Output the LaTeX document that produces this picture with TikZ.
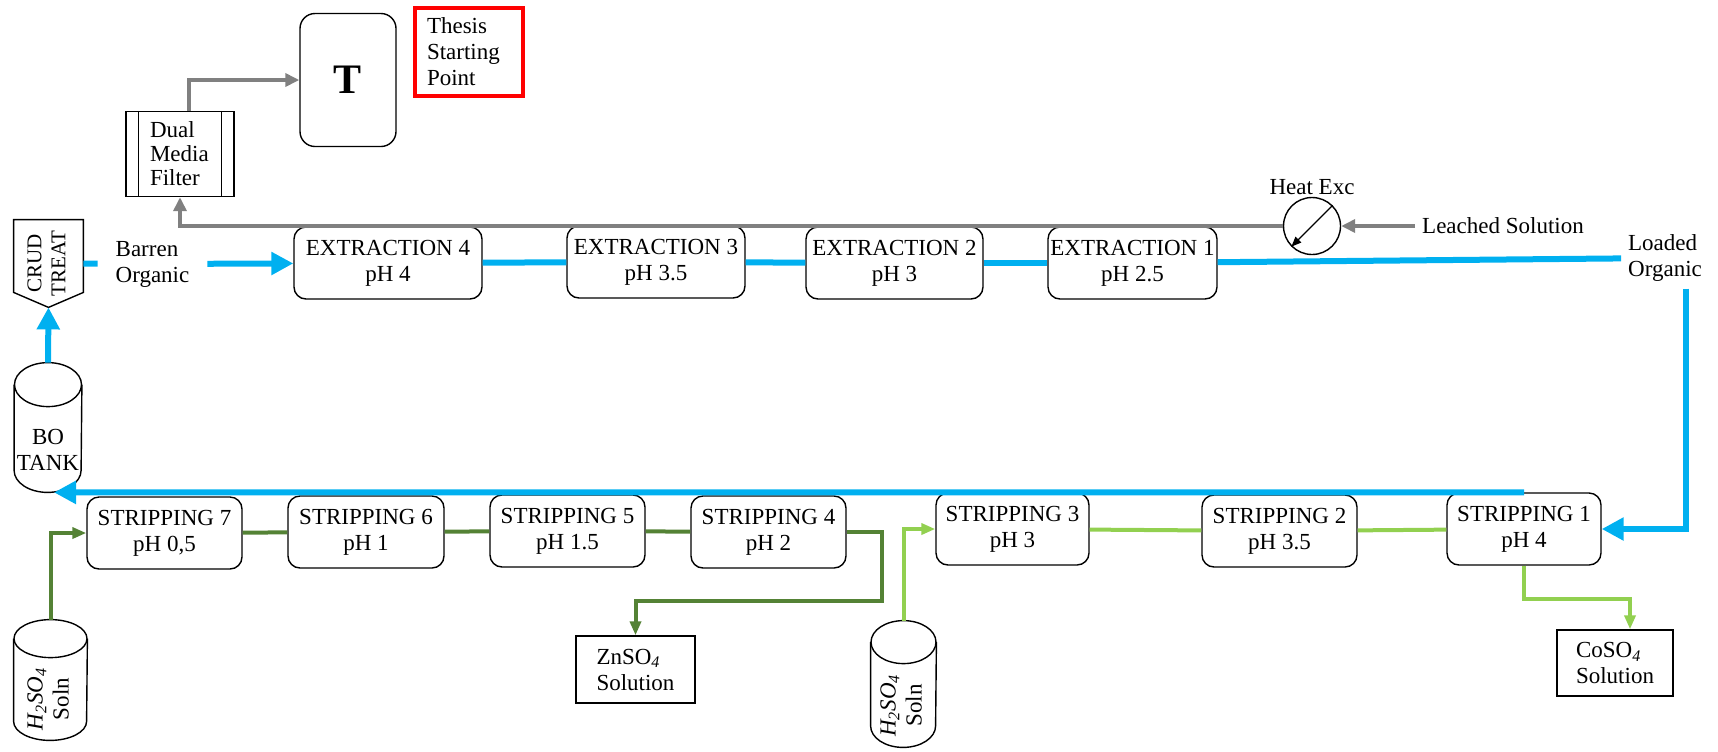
\documentclass[tikz,border=0pt]{standalone}
\usepackage{fontspec}
\setmainfont{Liberation Serif}
\usetikzlibrary{shapes, arrows.meta}

\definecolor{oblue}{RGB}{0,176,240}
\definecolor{pgray}{RGB}{128,128,128}
\definecolor{dgreen}{RGB}{84,130,53}
\definecolor{lgreen}{RGB}{146,208,80}

\begin{document}
\begin{tikzpicture}[x=0.5pt, y=-0.5pt, font=\fontsize{11.5}{13}\selectfont,
		stage/.style={draw, rounded corners=6pt, line width=0.7pt, align=center, minimum height=36pt, inner sep=1pt},
		outbox/.style={draw, line width=0.7pt, align=left, inner sep=2pt},
		tank/.style={align=center, inner sep=0pt},
		organic/.style={draw=oblue, line width=3pt},
		organicflow/.style={organic, -{Triangle[length=11pt, width=11pt]}},
		aqueous/.style={draw=pgray, line width=2pt, -{Triangle[length=7pt, width=6.5pt]}},
		zinc/.style={draw=dgreen, line width=2pt},
		zincflow/.style={zinc, -{Triangle[length=7pt, width=5.5pt]}},
		cobalt/.style={draw=lgreen, line width=2pt},
		cobaltflow/.style={cobalt, -{Triangle[length=7pt, width=5.5pt]}}]
		\useasboundingbox (0,0) rectangle (1718,751);
		\node (tbox) [draw, rounded corners=7.5pt, line width=0.7pt, minimum width=48pt, minimum height=66.5pt, font=\fontsize{21}{25}\selectfont\bfseries] at (348,80) {T};
		\node (thesis) [draw=red, line width=2pt, text width=42pt, align=left, minimum height=44pt, inner xsep=6pt] at (469,52) {Thesis\\Starting\\Point};
		\node (filter) [draw, line width=0.7pt, minimum width=54pt, minimum height=42.5pt, text width=30pt, align=left, inner sep=1pt, font=\fontsize{11.5}{12}\selectfont] at (180,154) {Dual\\Media\\Filter};
		\draw[line width=0.7pt] ([xshift=6.5pt]filter.north west) -- ([xshift=6.5pt]filter.south west);
		\draw[line width=0.7pt] ([xshift=-6.5pt]filter.north east) -- ([xshift=-6.5pt]filter.south east);
		\node (hx) [draw, circle, line width=0.7pt, minimum size=28.5pt, inner sep=0pt, label={[inner sep=1pt]above:Heat Exc}] at (1312,226) {};
		\draw[line width=0.6pt, -{Triangle[length=5pt, width=4pt]}] (hx.45) -- (hx.225);
		\node (leach) at (1503,226) {Leached Solution};
		\node (loaded) [align=left] at (1665,258) {Loaded\\Organic};
		\node (crud) [minimum width=34.5pt, minimum height=43.5pt, inner sep=0pt, font=\fontsize{10.5}{12}\selectfont] at (48.5,263.5) {\rotatebox{90}{\begin{tabular}{@{}c@{}}CRUD\\TREAT\end{tabular}}};
		\draw[line width=0.7pt] (crud.north west) -- (crud.north east) -- ([yshift=7.5pt]crud.south east) -- (crud.south) -- ([yshift=7.5pt]crud.south west) -- cycle;
		\node (barren) [align=left, minimum width=54.5pt] at (152.5,264) {Barren\\Organic};
		\node (ex4) [stage, minimum width=94pt] at (388,263) {EXTRACTION 4\\pH 4};
		\node (ex3) [stage, minimum width=89pt] at (656,262) {EXTRACTION 3\\pH 3.5};
		\node (ex2) [stage, minimum width=88.5pt] at (894.5,263) {EXTRACTION 2\\pH 3};
		\node (ex1) [stage, minimum width=84.5pt] at (1132.5,263) {EXTRACTION 1\\pH 2.5};
		\node (bo) [tank, minimum width=33.5pt, minimum height=42.5pt] at (48,449.5) {BO\\TANK};
		\node (s7) [stage, minimum width=77.5pt] at (164.5,533) {STRIPPING 7\\pH 0,5};
		\node (s6) [stage, minimum width=78pt] at (366,532) {STRIPPING 6\\pH 1};
		\node (s5) [stage, minimum width=77.5pt] at (567.5,531) {STRIPPING 5\\pH 1.5};
		\node (s4) [stage, minimum width=77.5pt] at (768.5,532) {STRIPPING 4\\pH 2};
		\node (s3) [stage, minimum width=76.5pt] at (1012.5,529) {STRIPPING 3\\pH 3};
		\node (s2) [stage, minimum width=77.5pt] at (1279.5,531) {STRIPPING 2\\pH 3.5};
		\node (s1) [stage, minimum width=77pt] at (1524,529) {STRIPPING 1\\pH 4};
		\node (zn) [outbox, minimum width=59.5pt, minimum height=33.5pt] at (635.5,669.5) {ZnSO\textsubscript{\textit{4}}\\Solution};
		\node (co) [outbox, minimum width=58pt, minimum height=33pt] at (1615,663) {CoSO\textsubscript{\textit{4}}\\Solution};
		\node (acid1) [tank, minimum width=36.5pt, minimum height=41pt] at (50.5,699) {\rotatebox{90}{\begin{tabular}{@{}c@{}}\textit{H\textsubscript{2}SO\textsubscript{4}}\\Soln\end{tabular}}};
		\node (acid2) [tank, minimum width=32.5pt, minimum height=41.5pt] at (903.5,705.5) {\rotatebox{90}{\begin{tabular}{@{}c@{}}\textit{H\textsubscript{2}SO\textsubscript{4}}\\Soln\end{tabular}}};
		\foreach \t/\rx/\ry in {bo/16.75pt/11pt, acid1/18.25pt/9.5pt, acid2/16.25pt/10.75pt} {
			\draw[line width=0.7pt] ([yshift=\ry]\t.north west) -- ([yshift=\ry]\t.south west)
				arc[start angle=180, end angle=360, x radius=\rx, y radius=\ry] -- ([yshift=\ry]\t.north east);
			\draw[line width=0.7pt] ([yshift=\ry]\t.north) ellipse[x radius=\rx, y radius=\ry];
		}
		\draw[aqueous]     (leach) -- (hx);
		\draw[aqueous]     (hx.west) -| (filter.south);
		\draw[aqueous]     ([xshift=4.5pt]filter.north) |- (tbox.west);
		\draw[organic]     (crud) -- (barren);
		\draw[organicflow] (barren) -- (ex4);
		\draw[organic]     (ex4) -- (ex3);
		\draw[organic]     (ex3) -- (ex2);
		\draw[organic]     (ex2) -- (ex1);
		\draw[organic]     (ex1) -- (loaded);
		\draw[organicflow] ([xshift=10.5pt]loaded.south) |- (s1);
		\draw[organicflow] (s1.north) -- ([xshift=3pt]bo.south);
		\draw[organicflow] ([yshift=22pt]bo.north) -- (crud.south);
		\draw[zinc]        (s7) -- (s6);
		\draw[zinc]        (s6) -- (s5);
		\draw[zinc]        (s5) -- (s4);
		\draw[zincflow]    ([yshift=19pt]acid1.north) |- (s7);
		\draw[zincflow]    (s4.east) -- ++(35,0) |- ([yshift=17pt]zn.north) -- (zn.north);
		\draw[cobalt]      (s3) -- (s2);
		\draw[cobalt]      (s2) -- (s1);
		\draw[cobaltflow]  ([yshift=21.5pt]acid2.north) |- (s3);
		\draw[cobaltflow]  (s1.south) -- ++(0,33) -| ([xshift=7.5pt]co.north);
\end{tikzpicture}
\end{document}
